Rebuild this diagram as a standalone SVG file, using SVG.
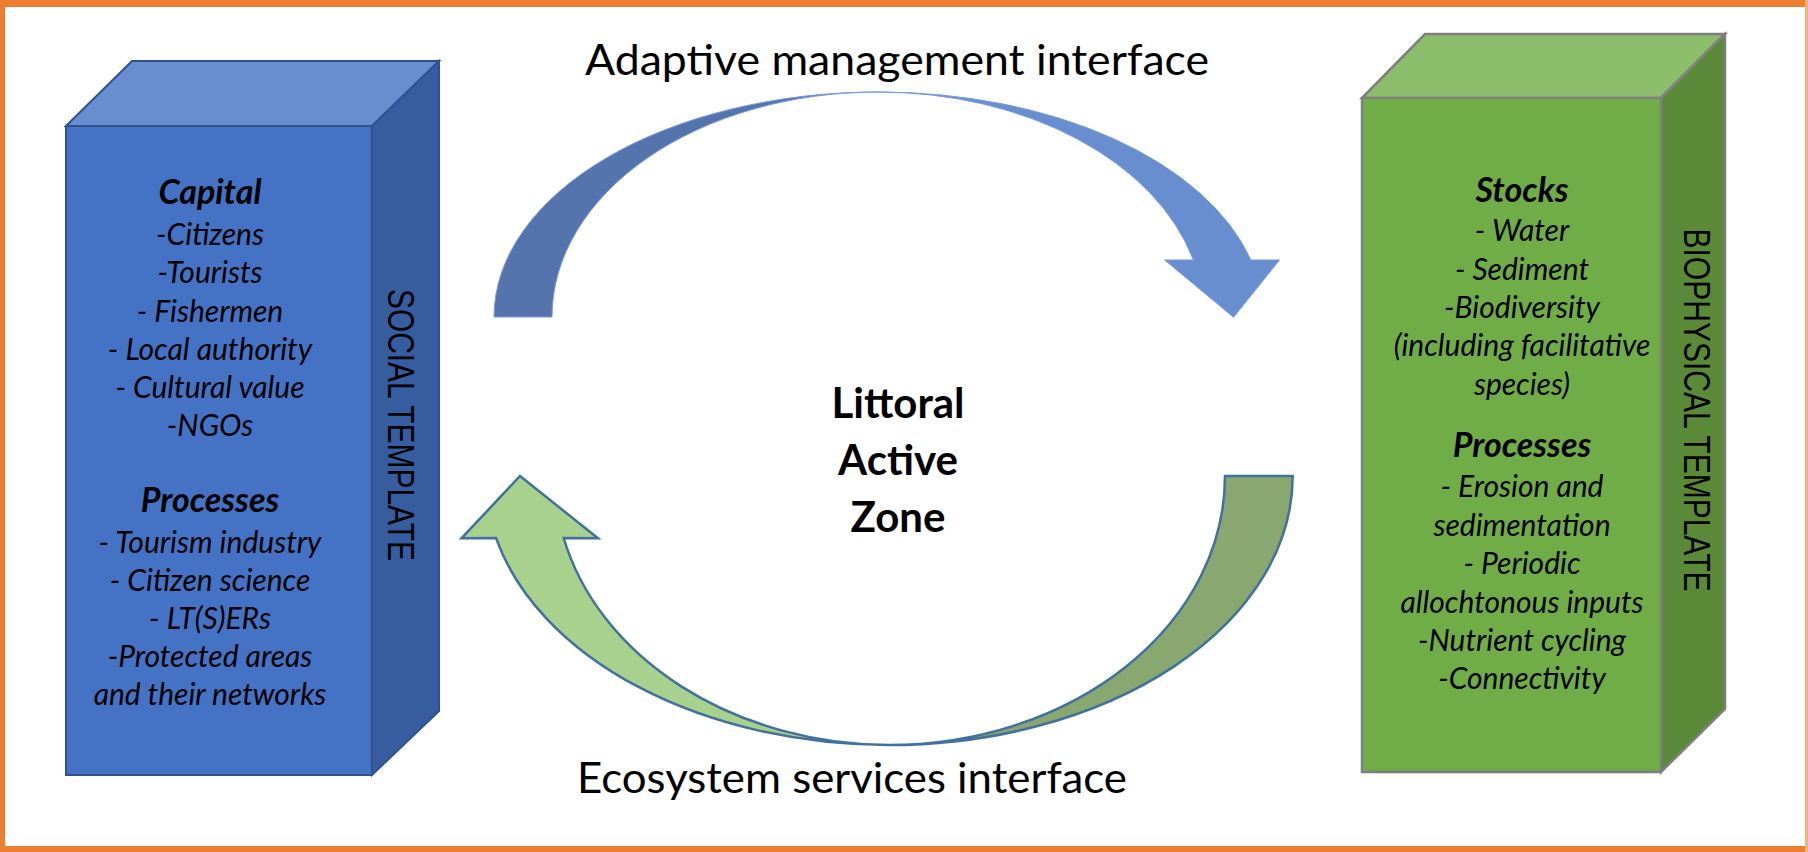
<svg xmlns="http://www.w3.org/2000/svg" width="1808" height="852" viewBox="0 0 1808 852">
<style>
.body{font-family:Lato,"Liberation Sans",sans-serif;font-style:italic;font-size:30px;fill:#000;text-anchor:middle}
.head{font-family:Lato,"Liberation Sans",sans-serif;font-style:italic;font-weight:bold;font-size:34px;fill:#000;text-anchor:middle}
.vert{font-family:"Liberation Sans Narrow","Liberation Sans",sans-serif;font-size:36px;fill:#000;text-anchor:middle}
.title{font-family:Lato,"Liberation Sans",sans-serif;font-size:42px;fill:#000;text-anchor:middle}
.center{font-family:Lato,"Liberation Sans",sans-serif;font-weight:bold;font-size:42px;fill:#000;text-anchor:middle}
</style>
<rect width="1808" height="852" fill="#fff"/>
<g id="frame" fill="#ED7D31">
<rect x="0" y="0" width="1808" height="7"/>
<rect x="0" y="0" width="5" height="852"/>
<rect x="0" y="846" width="1808" height="6"/>
<rect x="1805" y="0" width="3" height="852" fill="#F4B183"/>
</g>
<g id="connectors">
<g id="adaptive-arrow" stroke="#7A9BD8" stroke-width="1">
<path d="M494,317 A384,225 0 0 1 878,92 A326,225 0 0 0 552,317 Z" fill="#5574AD"/>
<path d="M878,92 A384,225 0 0 1 1250.8,260 L1279.5,260 L1233.6,317.3 L1164.7,260 L1193.4,260 A326,225 0 0 0 878,92 Z" fill="#698ED0"/>
</g>
<g id="ecosystem-arrow" stroke="#41719C" stroke-width="2.5" stroke-linejoin="miter">
<path d="M1292.7,476 A404,269 0 0 1 889,745 A336,269 0 0 0 1225,476 Z" fill="#88A870"/>
<path d="M889,745 A404,269 0 0 1 496,538 L461.5,538.3 L520,476 L598,538.3 L563.7,538 A336,269 0 0 0 889,745 Z" fill="#A9D18E"/>
</g>
</g>
<g id="social-template">
<polygon points="66,126 132,61 439,61 372,126" fill="#698ED0" stroke="#2F528F" stroke-width="2"/>
<polygon points="372,126 439,61 439,711 372,775" fill="#365D9F" stroke="#2F528F" stroke-width="2"/>
<rect x="66" y="126" width="306" height="649" fill="#4472C4" stroke="#2F528F" stroke-width="2"/>
<text class="head" x="210" y="204">Capital</text>
<text class="body" x="210" y="245">-Citizens</text>
<text class="body" x="210" y="283">-Tourists</text>
<text class="body" x="210" y="322">- Fishermen</text>
<text class="body" x="210" y="360">- Local authority</text>
<text class="body" x="210" y="398">- Cultural value</text>
<text class="body" x="210" y="436">-NGOs</text>
<text class="head" x="210" y="512">Processes</text>
<text class="body" x="210" y="553">- Tourism industry</text>
<text class="body" x="210" y="591">- Citizen science</text>
<text class="body" x="210" y="629">- LT(S)ERs</text>
<text class="body" x="210" y="667">-Protected areas</text>
<text class="body" x="210" y="705">and their networks</text>
<text class="vert" transform="translate(388,425) rotate(90)" textLength="272" lengthAdjust="spacingAndGlyphs">SOCIAL TEMPLATE</text>
</g>
<g id="biophysical-template">
<polygon points="1362,98 1425,34 1725,34 1661,98" fill="#8CBD6B" stroke="#7F7F7F" stroke-width="2.5"/>
<polygon points="1661,98 1725,34 1725,709 1661,772" fill="#5A8A38" stroke="#7F7F7F" stroke-width="2.5"/>
<rect x="1362" y="98" width="299" height="674" fill="#70AD47" stroke="#7F7F7F" stroke-width="2.5"/>
<text class="head" x="1522" y="202">Stocks</text>
<text class="body" x="1522" y="241">- Water</text>
<text class="body" x="1522" y="280">- Sediment</text>
<text class="body" x="1522" y="318">-Biodiversity</text>
<text class="body" x="1522" y="356">(including facilitative</text>
<text class="body" x="1522" y="395">species)</text>
<text class="head" x="1522" y="457">Processes</text>
<text class="body" x="1522" y="497">- Erosion and</text>
<text class="body" x="1522" y="536">sedimentation</text>
<text class="body" x="1522" y="574">- Periodic</text>
<text class="body" x="1522" y="613">allochtonous inputs</text>
<text class="body" x="1522" y="651">-Nutrient cycling</text>
<text class="body" x="1522" y="689">-Connectivity</text>
<text class="vert" transform="translate(1684,410) rotate(90)" textLength="363" lengthAdjust="spacingAndGlyphs">BIOPHYSICAL TEMPLATE</text>
</g>
<g id="labels">
<text class="title" x="897" y="75" textLength="624" lengthAdjust="spacingAndGlyphs">Adaptive management interface</text>
<text class="title" x="852" y="793" textLength="550" lengthAdjust="spacingAndGlyphs">Ecosystem services interface</text>
</g>
<g id="littoral-active-zone">
<text class="center" x="898" y="418">Littoral</text>
<text class="center" x="898" y="475">Active</text>
<text class="center" x="898" y="532">Zone</text>
</g>
</svg>
